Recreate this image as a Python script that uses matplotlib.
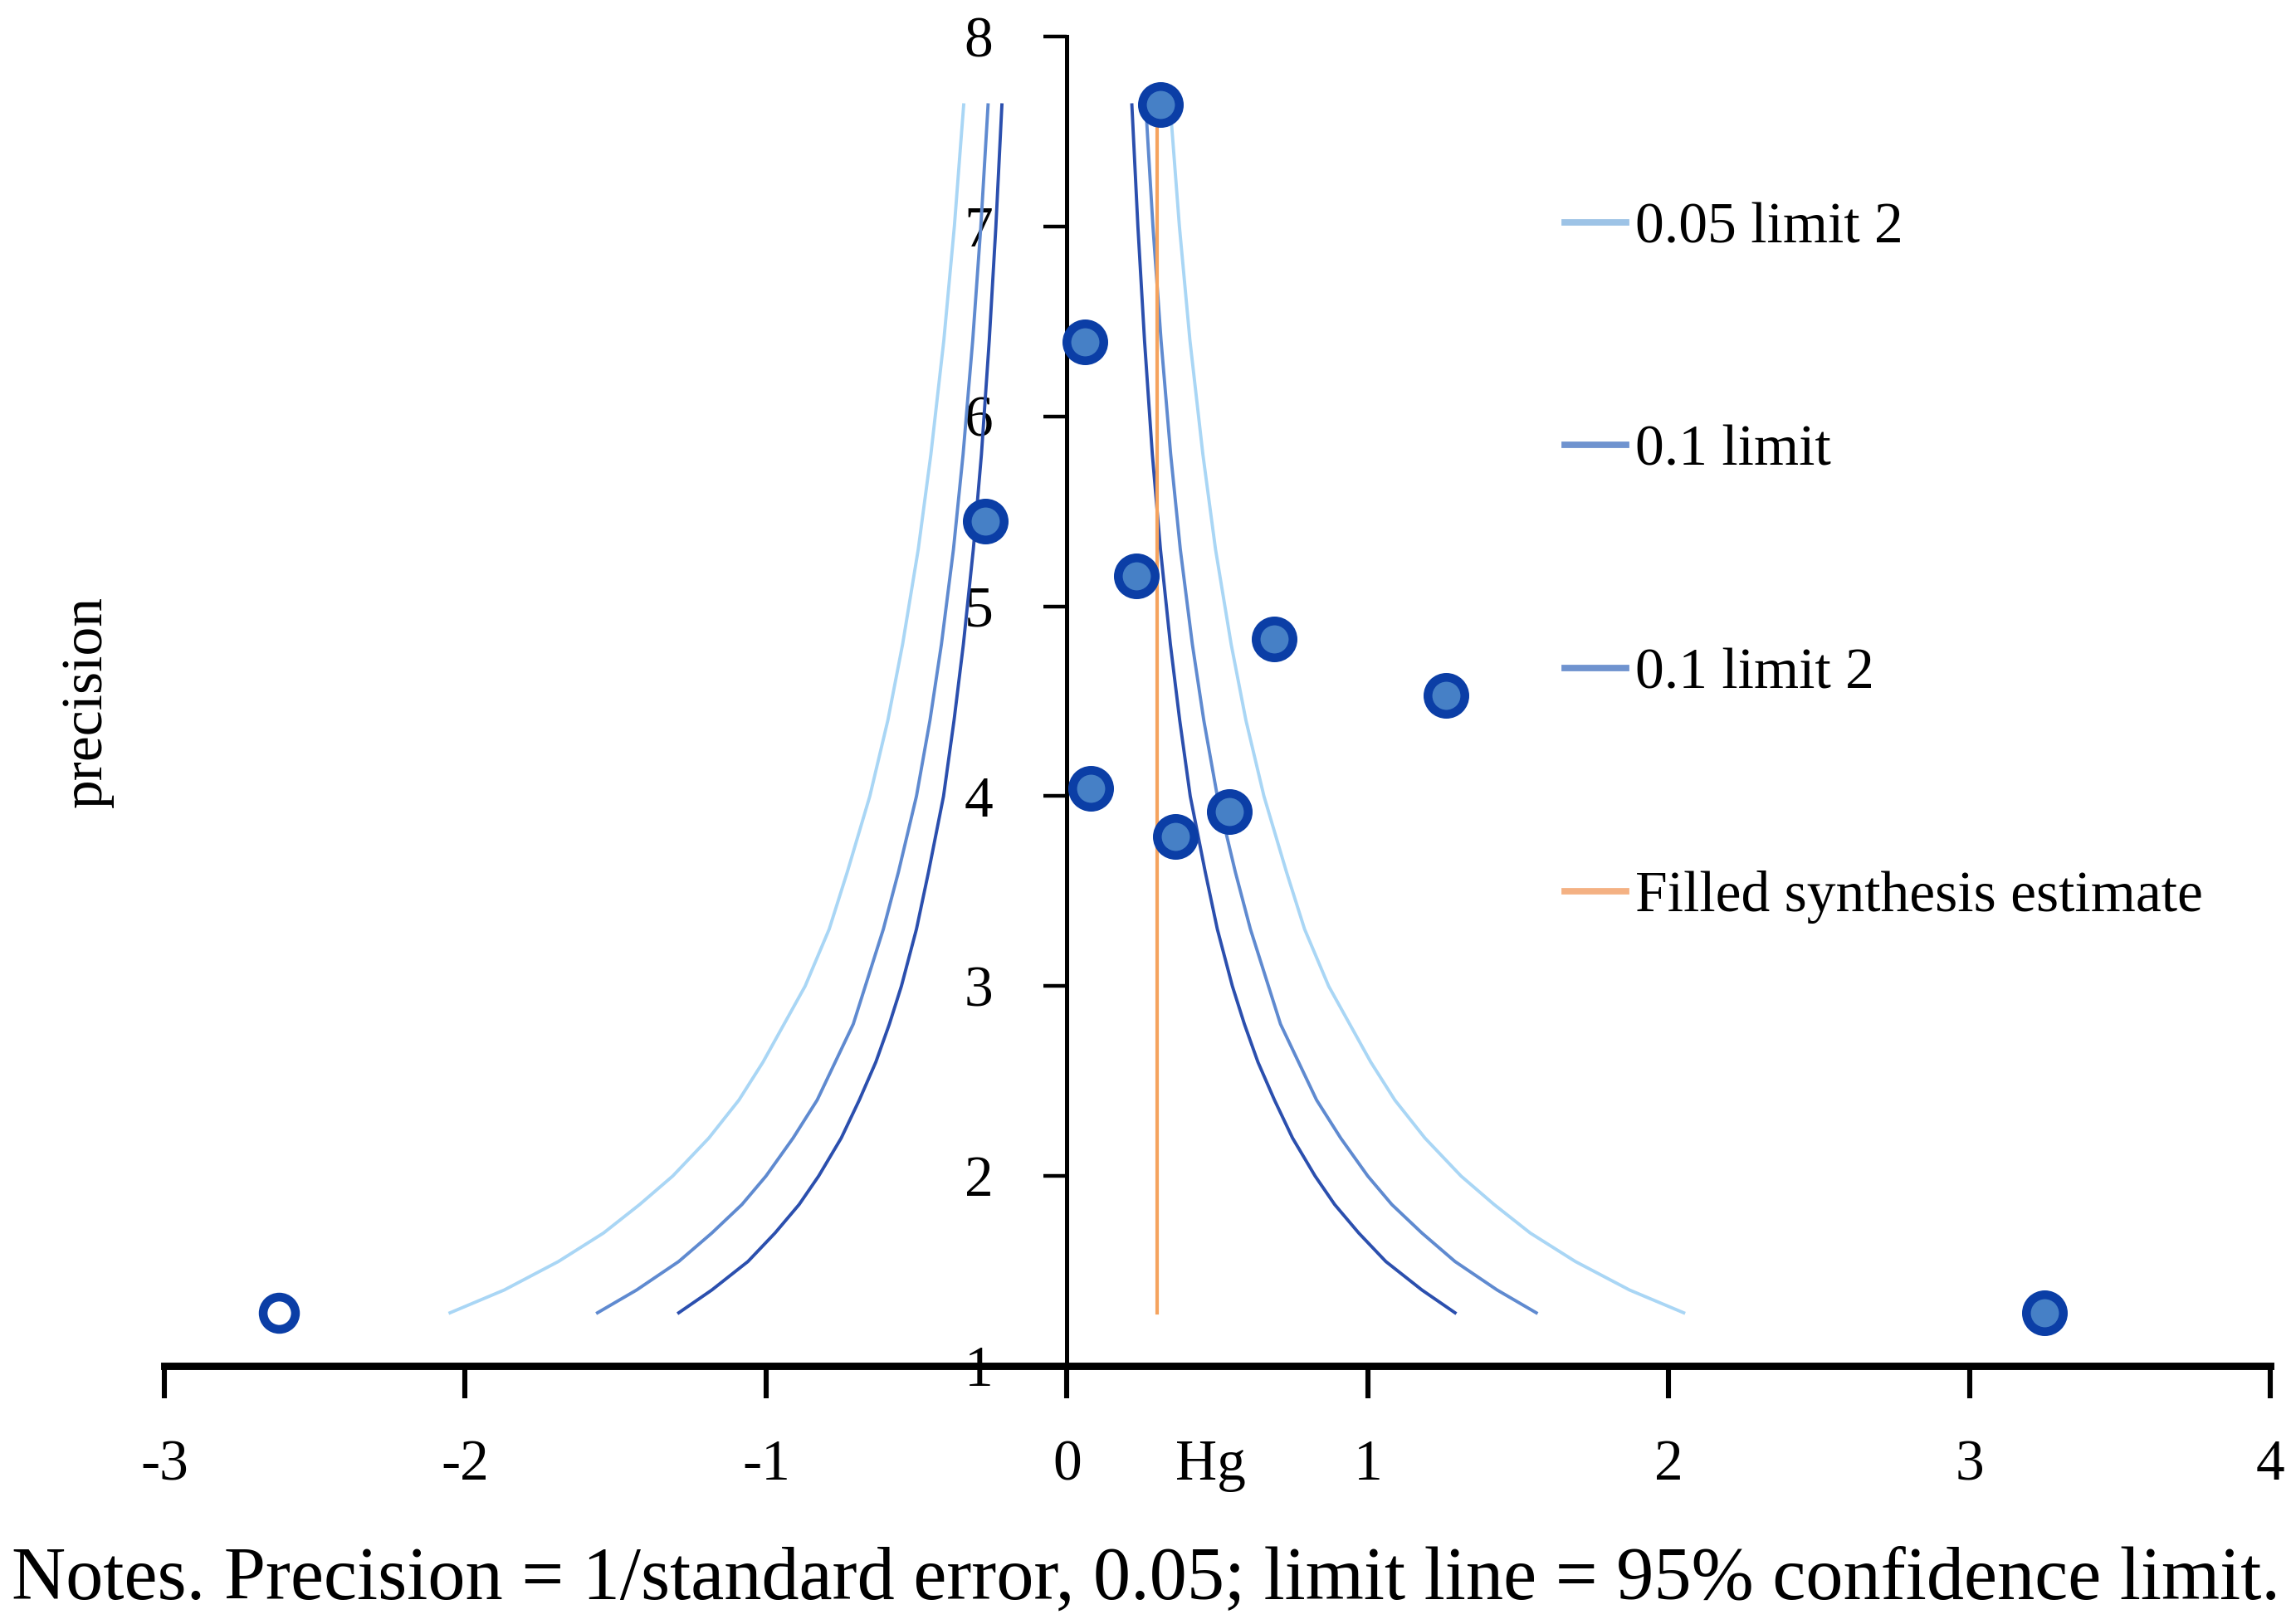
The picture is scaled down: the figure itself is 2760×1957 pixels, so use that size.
import matplotlib
matplotlib.use("Agg")
import matplotlib.pyplot as plt
from matplotlib.lines import Line2D

plt.rcParams['font.family'] = ['Liberation Serif', 'DejaVu Serif']
plt.rcParams['axes.unicode_minus'] = False

# observed studies (effect size Hg, precision)
study_hg = [0.31, 0.06, -0.27, 0.23, 0.69, 1.26, 0.08, 0.54, 0.36, 3.25]
study_prec = [7.64, 6.39, 5.45, 5.16, 4.83, 4.53, 4.04, 3.92, 3.79, 1.28]

# filled (imputed) study
filled_hg = [-2.62]
filled_prec = [1.28]

# limit curves at these precision levels
limit_prec = [1.28, 1.4, 1.55, 1.7, 1.85, 2.0, 2.2, 2.4, 2.6, 2.8, 3.0,
              3.3, 3.6, 4.0, 4.4, 4.8, 5.3, 5.8, 6.4, 7.0, 7.64]
lim005_half = [2.05, 1.87, 1.69, 1.54, 1.42, 1.31, 1.19, 1.09, 1.01, 0.94, 0.87,
               0.79, 0.73, 0.655, 0.595, 0.546, 0.494, 0.452, 0.409, 0.374, 0.343]
lim01_half = [1.56, 1.43, 1.29, 1.18, 1.08, 1.00, 0.91, 0.83, 0.77, 0.71, 0.67,
              0.61, 0.56, 0.50, 0.455, 0.417, 0.377, 0.345, 0.313, 0.286, 0.262]
lim01b_half = [1.29, 1.18, 1.06, 0.97, 0.89, 0.825, 0.75, 0.69, 0.635, 0.59, 0.55,
               0.50, 0.46, 0.41, 0.375, 0.344, 0.311, 0.284, 0.258, 0.236, 0.216]

synthesis_hg = 0.30
synthesis_prec = [1.28, 7.60]

legend_labels = ['0.05 limit 2', '0.1 limit', '0.1 limit 2', 'Filled synthesis estimate']
legend_colors = ['#9dc3e6', '#6f93cf', '#6f93cf', '#f4b183']

c_light = '#a9d6f5'
c_mid = '#5f8ad0'
c_dark = '#2b4fae'
c_orange = '#f5a35e'

fig = plt.figure(figsize=(13.8, 9.785), dpi=200)
ax = fig.add_axes([0.0717, 0.1589, 0.9193, 0.8186])

for half, col in [(lim005_half, c_light), (lim01_half, c_mid), (lim01b_half, c_dark)]:
    ax.plot([-v for v in half], limit_prec, color=col, lw=1.4)
    ax.plot(half, limit_prec, color=col, lw=1.4)
ax.plot([synthesis_hg, synthesis_hg], synthesis_prec, color=c_orange, lw=1.5)

ax.plot(study_hg, study_prec, 'o', ms=16, mfc='#4680c6', mec='#0b3ea6', mew=3.8, zorder=5)
ax.plot(filled_hg, filled_prec, 'o', ms=14, mfc='white', mec='#0b3ea6', mew=3.8, zorder=5)

ax.set_xlim(-3, 4)
ax.set_ylim(1, 8)
ax.set_xticks(range(-3, 5))
ax.set_yticks(range(1, 9))

ax.spines['top'].set_visible(False)
ax.spines['right'].set_visible(False)
ax.spines['left'].set_position(('data', 0))
ax.spines['left'].set_linewidth(1.8)
ax.spines['bottom'].set_linewidth(3.2)

ax.tick_params(axis='x', direction='out', length=14, width=2.2, pad=18, labelsize=25)
ax.tick_params(axis='y', direction='out', length=10, width=1.6, pad=22, labelsize=25)

ax.set_xlabel('Hg', fontsize=25)
ax.xaxis.set_label_coords(0.497, -0.075)
ax.xaxis.label.set_va('center')
ax.set_ylabel('precision', fontsize=25)
ax.yaxis.set_label_coords(-0.024, 0.50)

handles = [Line2D([0], [0], color=c, lw=2.8) for c in legend_colors]
ax.legend(handles, legend_labels, loc='center left', bbox_to_anchor=(0.665, 0.604),
          frameon=False, fontsize=25, handlelength=1.07, handletextpad=0.15,
          labelspacing=2.95, borderaxespad=0, borderpad=0)

fig.text(0.5, 0.027, 'Notes. Precision = 1/standard error, 0.05; limit line = 95% confidence limit.',
         ha='center', va='center', fontsize=32.5)

fig.savefig('out.png', dpi=200)
